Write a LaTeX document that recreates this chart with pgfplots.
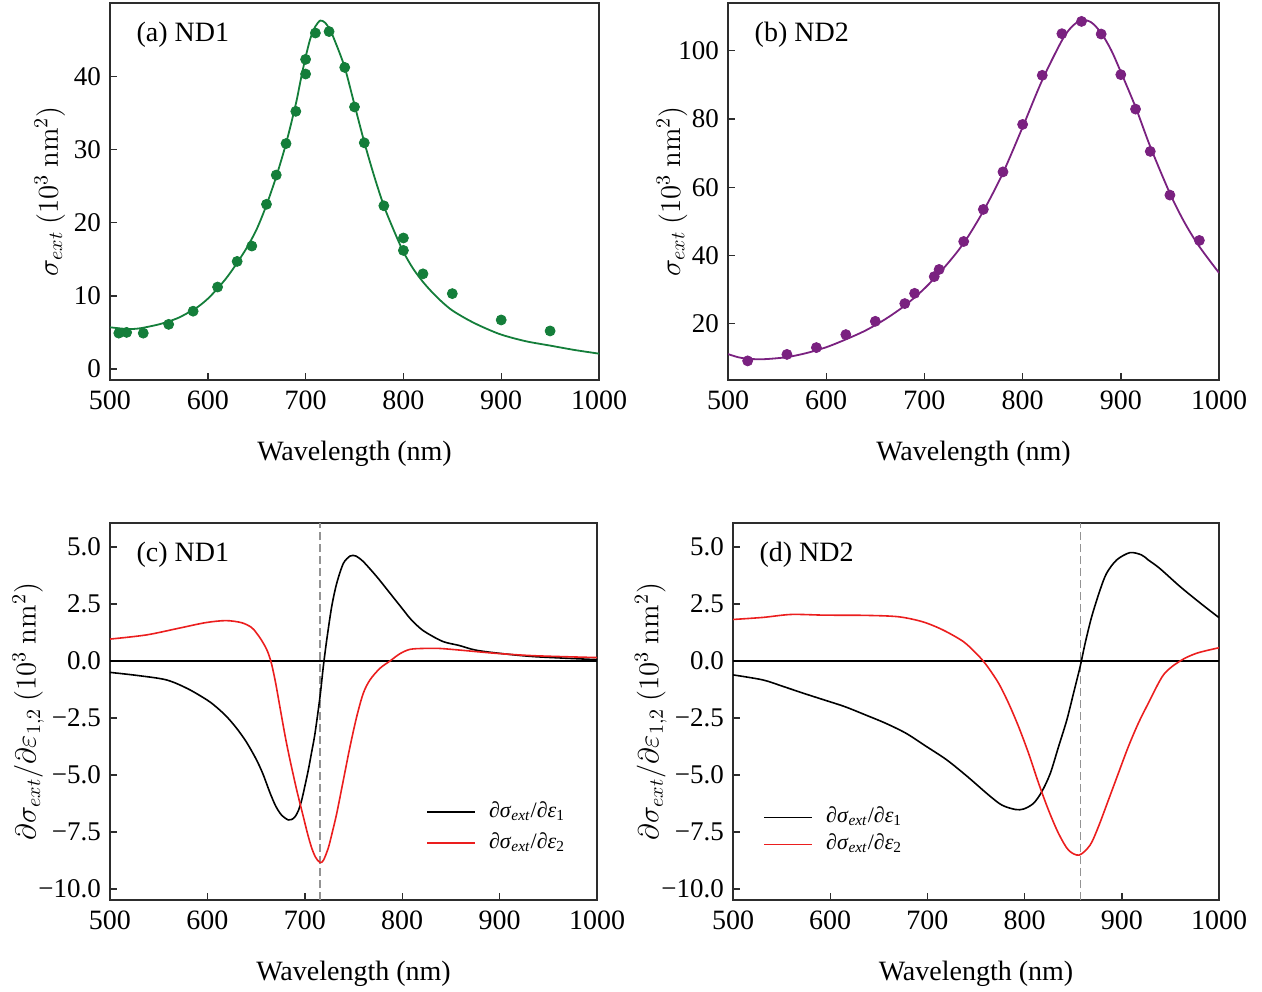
\documentclass[border=0pt]{standalone}
\usepackage[no-math]{fontspec}
\setmainfont{Liberation Serif}
\usepackage{pgfplots}
\pgfplotsset{compat=1.18}
\definecolor{mygreen}{RGB}{20,126,58}
\definecolor{mypurple}{RGB}{122,33,128}
\definecolor{myred}{RGB}{235,30,30}
\definecolor{frame}{RGB}{45,45,45}
\pgfplotsset{
  base/.style={
    scale only axis,
    xmin=500, xmax=1000, xtick={500,600,...,1000},
    tick align=inside, tick pos=left, major tick length=3.5pt,
    axis line style={frame, line width=0.85pt},
    every tick/.style={frame, line width=0.7pt},
    /pgf/number format/assume math mode=true,
    /pgf/number format/1000 sep={},
    xticklabel style={font=\fontsize{14}{16}\selectfont, yshift=-2pt},
    yticklabel style={font=\fontsize{13.5}{15}\selectfont, xshift=-1pt},
    label style={font=\fontsize{14}{16}\selectfont},
    xlabel={Wavelength (nm)},
    xlabel style={at={(axis description cs:0.5,-0.195)}, anchor=center},
  },
  legstyle/.style={
    legend cell align=left,
    legend image code/.code={\draw[##1, line width=0.8pt] (0pt,0pt) -- (24pt,0pt);},
    legend style={draw=none, fill=none, inner sep=0pt,
      font=\fontsize{11}{13}\selectfont,
      nodes={inner xsep=0pt, inner ysep=0pt, text height=8pt, text depth=3pt},
      column sep=6.5pt},
  },
}
\newcommand{\dsde}[1]{\textit{∂σ}\textsubscript{\textit{ext}}/\textit{∂ε}\textsubscript{#1}}
\begin{document}
\begin{tikzpicture}
\useasboundingbox (0,0) rectangle (631pt,495.5pt);
% (a)
\begin{axis}[base, at={(55pt,305.5pt)}, anchor=south west,
  width=244.5pt, height=188.5pt,
  ymin=-1.5, ymax=50, ytick={0,10,20,30,40},
  ylabel={$\sigma_{ext}\ (10^3\ \mathrm{nm}^2)$},
  ylabel style={at={(axis description cs:-0.123,0.5)}, anchor=center}]
\addplot[mygreen, line width=0.9pt, smooth] coordinates {
(500,5.7)(510,5.55)(520,5.45)(530,5.55)(540,5.8)(550,6.1)(560,6.5)(570,7.0)(580,7.7)(590,8.5)(600,9.6)(610,11.0)(620,12.6)(630,14.5)(640,16.6)(650,19.1)(660,22.4)(670,26.3)(680,30.8)(690,36.2)(695,39.5)(700,42.6)(705,45.2)(710,46.8)(715,47.6)(720,47.3)(725,46.3)(730,44.8)(740,41.2)(750,36.1)(760,31.0)(770,26.4)(780,22.3)(790,19.0)(800,16.0)(810,13.7)(820,11.9)(830,10.4)(840,9.1)(850,8.0)(865,6.8)(880,5.8)(900,4.7)(925,3.8)(950,3.2)(975,2.6)(1000,2.1)};
\addplot[only marks, mark=*, mark size=2.5pt, color=mygreen] coordinates {
(509,4.9)(517,5.0)(534,4.9)(560,6.1)(585,7.9)(610,11.2)(630,14.7)(645,16.8)(660,22.5)(670,26.5)(680,30.8)(690,35.2)(700,40.3)(700,42.3)(710,45.9)(724,46.1)(740,41.2)(750,35.8)(760,30.9)(780,22.3)(800,17.9)(800,16.2)(820,13.0)(850,10.3)(900,6.7)(950,5.2)};
\node[anchor=west, font=\fontsize{14}{16}\selectfont] at (axis description cs:0.04,0.915) {(a) ND1};
\end{axis}
% (b)
\begin{axis}[base, at={(364pt,305.5pt)}, anchor=south west,
  width=245.5pt, height=188.5pt,
  ymin=3.5, ymax=114, ytick={20,40,60,80,100},
  ylabel={$\sigma_{ext}\ (10^3\ \mathrm{nm}^2)$},
  ylabel style={at={(axis description cs:-0.114,0.5)}, anchor=center}]
\addplot[mypurple, line width=0.9pt, smooth] coordinates {
(500,11.1)(510,10.2)(520,9.7)(530,9.6)(540,9.65)(560,10.2)(580,11.4)(600,13.1)(620,15.4)(640,18.0)(660,21.3)(680,25.3)(700,30.3)(720,36.4)(740,43.6)(760,53.0)(780,64.2)(800,77.6)(820,91.4)(840,103.0)(850,107.0)(860,109.0)(870,108.3)(880,105.2)(890,100.3)(900,93.8)(915,83.5)(930,71.9)(950,58.2)(965,49.6)(980,42.6)(1000,34.9)};
\addplot[only marks, mark=*, mark size=2.5pt, color=mypurple] coordinates {
(520,9.1)(560,11.0)(590,13.0)(620,16.8)(650,20.7)(680,25.9)(690,28.9)(710,33.8)(715,35.9)(740,44.1)(760,53.5)(780,64.5)(800,78.4)(820,92.8)(840,105.0)(860,108.6)(880,104.9)(900,93.0)(915,82.9)(930,70.5)(950,57.7)(980,44.4)};
\node[anchor=west, font=\fontsize{14}{16}\selectfont] at (axis description cs:0.04,0.915) {(b) ND2};
\end{axis}
% (c)
\begin{axis}[base, legstyle, at={(55pt,45.5pt)}, anchor=south west,
  width=243.5pt, height=188.5pt,
  ymin=-10.48, ymax=6.05, ytick={-10,-7.5,-5,-2.5,0,2.5,5},
  yticklabels={−10.0,−7.5,−5.0,−2.5,0.0,2.5,5.0},
  ylabel={$\partial\sigma_{ext}/\partial\varepsilon_{1,2}\ (10^3\ \mathrm{nm}^2)$},
  ylabel style={at={(axis description cs:-0.168,0.5)}, anchor=center},
  legend style={at={(axis description cs:0.649,0.263)}, anchor=north west, row sep=4.5pt}]
\addplot[black, line width=0.7pt, forget plot] coordinates {(500,0)(1000,0)};
\addplot[gray!85, dashed, dash pattern=on 4pt off 2pt, line width=0.7pt, forget plot] coordinates {(715.5,-10.48)(715.5,6.05)};
\addplot[black, line width=0.8pt, smooth] coordinates {
(500,-0.50)(529,-0.64)(558,-0.83)(580,-1.22)(600,-1.72)(610,-2.05)(620,-2.45)(630,-2.95)(640,-3.55)(650,-4.3)(657,-4.95)(664,-5.75)(670,-6.35)(676,-6.75)(683,-6.97)(686.5,-6.95)(690,-6.83)(693.5,-6.55)(696.8,-6.1)(700,-5.5)(703.6,-4.78)(707,-4.0)(710.5,-3.17)(715.6,-1.57)(719,-0.25)(722.5,0.92)(727.6,2.38)(732.8,3.41)(739.6,4.28)(746.4,4.6)(749.5,4.63)(752.6,4.6)(760,4.36)(773.8,3.7)(787.5,2.97)(801.1,2.24)(808,1.87)(818,1.45)(826,1.21)(842,0.85)(858.5,0.68)(875,0.48)(899,0.34)(936,0.19)(1000,0.06)};
\addlegendentry{\dsde{1}}
\addplot[myred, line width=0.8pt, smooth] coordinates {
(500,0.96)(537,1.14)(570,1.43)(598,1.68)(619,1.77)(635,1.68)(645,1.48)(650,1.25)(655,0.95)(660,0.58)(663,0.28)(666,-0.15)(670,-0.95)(675,-2.15)(680,-3.33)(684.8,-4.34)(691.7,-5.66)(698.5,-6.83)(703,-7.6)(707.1,-8.2)(711,-8.6)(715.4,-8.83)(719,-8.75)(724.1,-8.2)(728,-7.55)(732.8,-6.68)(739.6,-5.22)(746.4,-3.76)(753.3,-2.44)(760,-1.42)(766.9,-0.83)(777.2,-0.32)(787.5,0)(797.7,0.32)(808,0.51)(822,0.55)(838,0.55)(858.5,0.48)(895,0.34)(936,0.23)(1000,0.15)};
\addlegendentry{\dsde{2}}
\node[anchor=west, font=\fontsize{14}{16}\selectfont] at (axis description cs:0.04,0.915) {(c) ND1};
\end{axis}
% (d)
\begin{axis}[base, legstyle, at={(366.5pt,45.5pt)}, anchor=south west,
  width=243pt, height=188.5pt,
  ymin=-10.48, ymax=6.05, ytick={-10,-7.5,-5,-2.5,0,2.5,5},
  yticklabels={−10.0,−7.5,−5.0,−2.5,0.0,2.5,5.0},
  ylabel={$\partial\sigma_{ext}/\partial\varepsilon_{1,2}\ (10^3\ \mathrm{nm}^2)$},
  ylabel style={at={(axis description cs:-0.169,0.5)}, anchor=center},
  legend style={at={(axis description cs:0.062,0.249)}, anchor=north west, row sep=2.5pt}]
\addplot[black, line width=0.7pt, forget plot] coordinates {(500,0)(1000,0)};
\addplot[gray!85, dashed, dash pattern=on 4pt off 2pt, line width=0.7pt, forget plot] coordinates {(857.3,-10.48)(857.3,6.05)};
\addplot[black, line width=0.8pt, smooth] coordinates {
(500,-0.61)(530.7,-0.83)(551.8,-1.12)(572.8,-1.42)(593.9,-1.71)(614.9,-2.0)(636,-2.36)(657,-2.73)(678,-3.17)(699,-3.75)(720,-4.34)(741.2,-5.07)(763.1,-5.88)(776.7,-6.32)(790.5,-6.51)(799,-6.49)(809.2,-6.24)(817.7,-5.73)(826.4,-4.93)(834.9,-3.76)(843.4,-2.59)(850.3,-1.42)(857.1,-0.25)(862.3,0.78)(869,1.94)(877.6,3.11)(884.4,3.85)(894.7,4.43)(908.4,4.75)(920.3,4.65)(927.2,4.43)(939,4.06)(960,3.26)(981,2.53)(1000,1.90)};
\addlegendentry{\dsde{1}}
\addplot[myred, line width=0.8pt, smooth] coordinates {
(500,1.82)(530.7,1.91)(560,2.04)(594,2.01)(636,2.0)(670,1.94)(695,1.72)(716,1.36)(737,0.85)(750,0.34)(757,0.02)(763.1,-0.32)(773.3,-0.98)(783.6,-1.86)(793.8,-2.88)(804.1,-4.05)(814.4,-5.36)(824.6,-6.54)(834.9,-7.56)(845.1,-8.29)(856.1,-8.51)(867.4,-8.07)(875.9,-7.27)(886.2,-6.1)(896.4,-4.93)(906.7,-3.76)(917,-2.73)(927.2,-1.86)(943,-0.6)(960,0)(977,0.34)(1000,0.58)};
\addlegendentry{\dsde{2}}
\node[anchor=west, font=\fontsize{14}{16}\selectfont] at (axis description cs:0.04,0.915) {(d) ND2};
\end{axis}
\end{tikzpicture}
\end{document}
